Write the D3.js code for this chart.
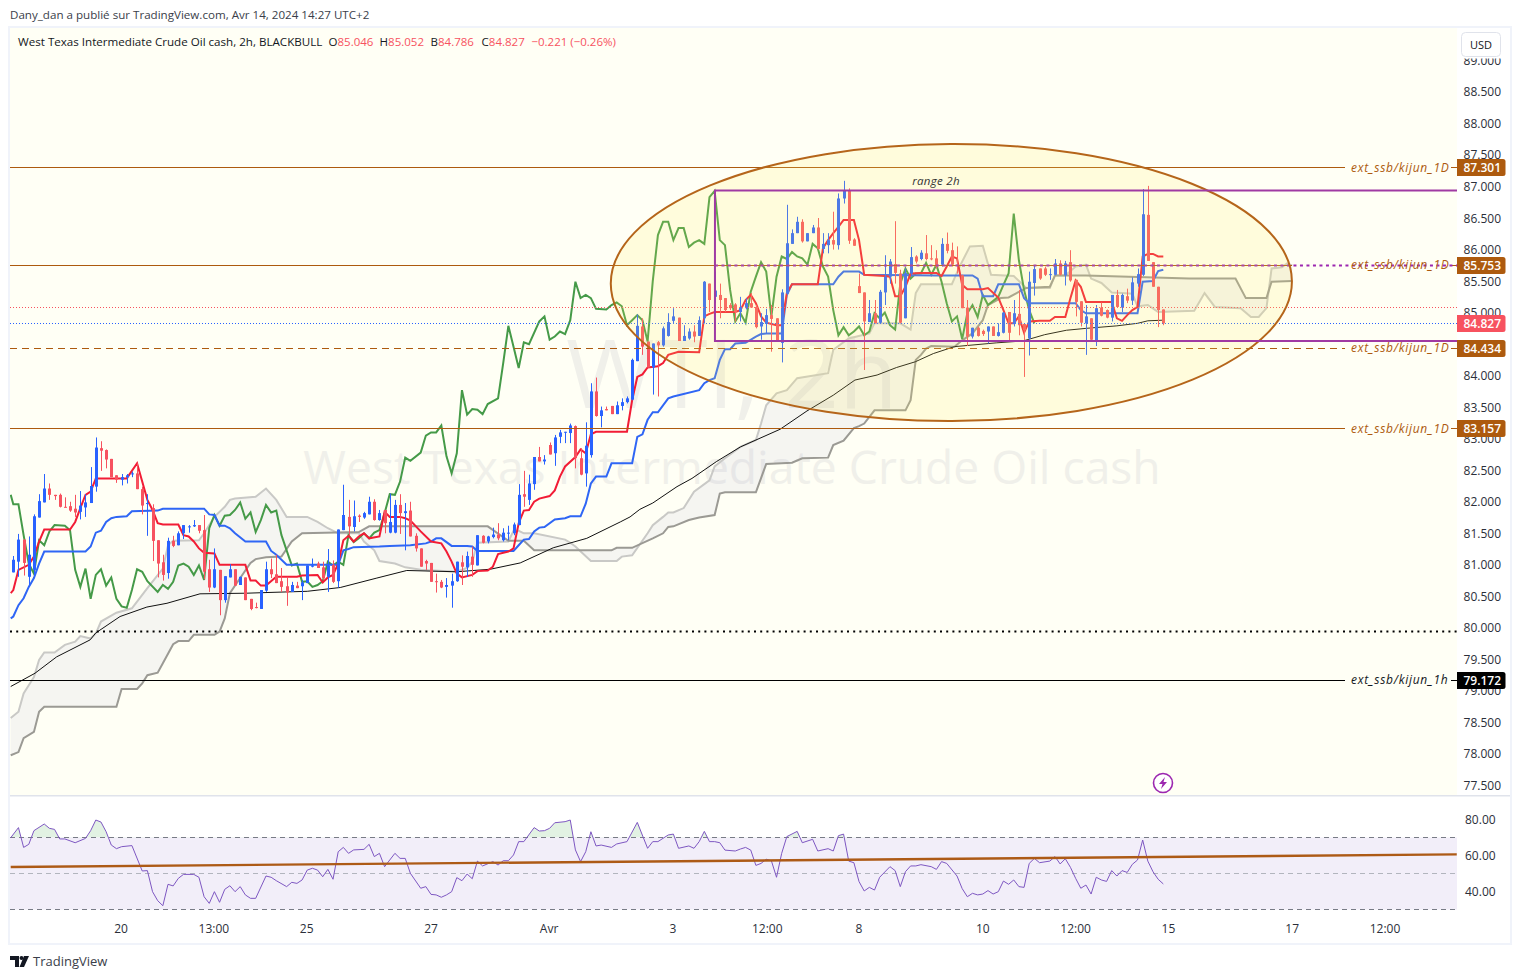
<!DOCTYPE html>
<html><head><meta charset="utf-8">
<script src="https://cdn.jsdelivr.net/npm/d3@7/dist/d3.min.js"></script>
<style>html,body{margin:0;padding:0;background:#fff}svg{display:block}text{font-family:"Open Sans",sans-serif}</style>
</head><body><svg id="c" width="1521" height="979"></svg>
<script>
const opens=[80.88,81.05,81.40,80.81,80.92,81.75,81.99,82.21,82.11,82.11,
81.92,81.93,81.89,81.84,81.91,81.98,82.24,82.85,82.82,82.68,
82.42,82.35,82.39,82.44,82.45,82.20,81.97,81.90,81.39,81.04,
80.87,81.38,81.31,81.50,81.60,81.61,81.63,81.55,80.93,80.64,
80.92,80.44,80.80,80.93,80.68,80.80,80.46,80.33,80.30,80.59,
80.93,80.85,80.74,80.66,80.57,80.67,80.66,80.71,80.97,81.02,
80.96,80.81,81.00,80.74,81.55,81.76,81.60,81.78,81.75,81.80,
82.00,81.71,81.87,81.51,81.51,81.95,81.82,81.86,81.46,81.26,
81.06,81.03,80.74,80.73,80.65,80.67,80.74,81.04,80.96,81.13,
80.99,81.46,81.37,81.44,81.48,81.39,81.50,81.50,81.63,82.12,
82.03,82.28,82.71,82.64,82.90,82.77,83.03,83.10,83.09,83.20,
82.69,82.45,82.74,83.75,83.36,83.47,83.52,83.39,83.52,83.58,
83.62,84.23,84.78,84.54,84.13,84.53,84.48,84.63,84.87,84.92,
84.55,84.59,84.70,84.63,84.91,85.46,85.25,85.28,85.23,85.12,
85.13,85.01,85.07,85.15,85.09,84.78,84.82,84.96,84.91,84.52,
85.30,86.09,86.26,86.44,86.13,86.26,86.35,86.01,86.07,86.15,
86.07,86.81,86.93,86.16,85.42,85.32,84.85,84.99,84.84,85.32,
85.57,85.77,85.62,84.91,85.62,85.89,85.85,85.94,85.86,85.86,
85.76,86.09,85.99,85.76,85.59,85.08,84.62,84.76,84.71,84.70,
84.78,84.63,84.68,85.01,84.82,84.98,84.82,84.59,85.47,85.70,
85.70,85.60,85.60,85.78,85.59,85.80,85.52,85.18,84.83,84.91,
84.55,85.08,85.04,84.92,85.28,85.08,85.26,85.19,85.46,85.60,
86.55,85.80,85.41,85.05];
const highs=[81.14,81.49,81.40,81.45,81.80,82.12,82.44,82.29,82.11,82.13,
82.07,82.00,82.11,82.17,82.12,82.55,83.02,82.96,82.83,82.68,
82.42,82.44,82.44,82.48,82.61,82.24,82.12,81.96,81.39,81.16,
81.43,81.46,81.53,81.63,81.63,81.71,81.63,81.79,81.08,81.26,
80.92,80.82,81.01,80.93,80.81,80.80,80.46,80.40,80.60,81.05,
81.10,81.16,80.95,80.81,80.73,80.73,80.76,80.99,81.10,81.05,
81.05,81.25,81.07,81.56,82.27,82.03,82.02,81.80,81.84,82.08,
82.04,81.87,81.87,82.13,82.03,82.12,81.98,82.00,81.50,81.26,
81.08,81.03,80.86,80.76,80.79,80.86,81.05,81.15,81.21,81.29,
81.47,81.47,81.46,81.59,81.66,81.58,81.62,81.67,82.28,82.49,
82.43,82.71,82.87,82.74,82.94,83.06,83.14,83.11,83.24,83.21,
82.85,83.26,83.88,83.97,83.51,83.51,83.52,83.59,83.64,83.67,
84.27,84.97,84.91,84.54,84.51,84.55,84.78,84.99,85.07,84.92,
84.80,84.75,84.80,84.94,85.50,85.46,85.65,85.46,85.23,85.15,
85.15,85.25,85.23,85.31,85.12,84.99,85.06,85.12,84.91,85.37,
86.71,86.32,86.52,86.48,86.26,86.39,86.50,86.26,86.26,86.60,
86.89,87.09,86.97,86.18,85.62,85.32,85.20,85.20,85.36,85.91,
85.85,86.45,85.68,85.70,86.04,85.91,85.99,86.23,86.07,85.99,
86.18,86.27,86.11,86.05,85.60,85.20,84.76,84.78,84.73,84.78,
84.78,84.83,85.01,85.01,85.20,85.36,84.82,85.65,85.74,85.70,
85.73,85.70,85.85,85.83,85.82,85.99,85.52,85.18,85.12,84.91,
85.12,85.16,85.05,85.28,85.36,85.30,85.38,85.56,85.70,86.96,
87.01,85.80,85.41,85.05];
const lows=[80.88,80.81,80.83,80.68,80.84,81.75,81.99,82.03,82.03,81.91,
81.91,81.84,81.76,81.72,81.76,81.98,82.16,82.49,82.53,82.39,
82.30,82.26,82.29,82.39,82.20,81.80,81.46,81.06,80.80,80.75,
80.78,81.28,81.31,81.41,81.51,81.60,81.50,80.77,80.57,80.63,
80.20,80.40,80.80,80.67,80.68,80.44,80.28,80.31,80.30,80.57,
80.79,80.71,80.57,80.35,80.57,80.63,80.44,80.71,80.96,80.95,
80.76,80.57,80.71,80.64,81.55,81.47,81.53,81.68,81.73,81.80,
81.70,81.70,81.50,81.50,81.50,81.49,81.23,81.45,81.21,80.97,
80.92,80.73,80.56,80.63,80.48,80.32,80.73,80.68,80.81,80.81,
80.99,81.34,81.34,81.42,81.39,81.37,81.39,81.47,81.63,81.92,
81.95,82.19,82.64,82.59,82.75,82.57,82.93,82.93,82.93,82.53,
82.42,82.24,82.70,83.35,83.18,83.45,83.39,83.39,83.45,83.56,
83.61,84.23,84.33,84.13,83.70,83.67,84.46,84.62,84.83,84.55,
84.55,84.57,84.53,84.63,84.83,85.01,85.15,84.91,85.01,85.04,
84.86,84.86,85.05,85.08,84.75,84.57,84.67,84.38,84.54,84.21,
85.28,86.09,86.26,86.11,86.13,86.26,86.00,85.94,85.94,86.00,
86.00,86.73,86.09,86.06,85.31,84.09,84.85,84.83,84.83,85.12,
85.46,85.46,84.83,84.91,85.57,85.78,85.83,85.83,85.83,85.70,
85.73,85.94,85.73,85.62,85.07,84.47,84.59,84.62,84.63,84.51,
84.63,84.62,84.67,84.55,84.78,84.64,83.98,84.32,85.27,85.52,
85.58,85.52,85.59,85.59,85.43,85.49,84.94,84.78,84.33,84.56,
84.47,84.94,84.91,84.86,85.08,85.01,85.15,85.12,85.41,85.58,
85.82,85.41,84.77,84.80];
const closes=[81.08,81.40,81.03,81.16,81.77,82.01,82.21,82.11,82.09,81.92,
81.91,81.86,81.83,81.94,81.99,82.25,82.86,82.81,82.67,82.39,
82.35,82.39,82.42,82.45,82.20,81.94,81.98,81.38,81.02,80.84,
81.38,81.30,81.50,81.63,81.61,81.63,81.54,80.89,80.64,80.93,
80.44,80.82,80.93,80.67,80.81,80.44,80.30,80.32,80.60,80.93,
80.85,80.71,80.65,80.56,80.68,80.63,80.72,80.99,80.99,80.95,
80.79,80.99,80.73,81.56,81.79,81.61,81.77,81.76,81.82,82.00,
81.71,81.82,81.66,81.68,81.95,81.82,81.85,81.45,81.26,80.97,
81.02,80.73,80.73,80.64,80.68,80.74,81.05,80.97,81.14,81.00,
81.47,81.35,81.45,81.48,81.42,81.51,81.51,81.64,82.11,82.08,
82.29,82.71,82.64,82.67,82.75,83.02,83.10,83.11,83.21,82.69,
82.43,82.89,83.75,83.36,83.45,83.45,83.39,83.53,83.58,83.64,
84.25,84.79,84.46,84.13,84.51,84.48,84.75,84.85,84.94,84.55,
84.63,84.70,84.62,84.88,85.49,85.20,85.35,85.20,85.04,85.07,
85.01,85.09,85.15,85.08,84.77,84.85,84.96,84.90,84.54,85.32,
86.10,86.26,86.44,86.13,86.26,86.35,86.01,86.09,86.15,86.08,
86.81,86.93,86.14,86.06,85.31,84.86,84.99,84.83,85.33,85.57,
85.81,85.63,84.84,85.63,85.88,85.81,85.95,85.85,85.85,85.73,
86.09,85.98,85.76,85.74,85.07,84.62,84.76,84.63,84.66,84.78,
84.63,84.69,85.00,84.68,84.99,84.80,84.72,85.49,85.69,85.54,
85.60,85.61,85.78,85.60,85.78,85.51,85.17,84.84,84.94,84.57,
85.07,84.95,84.92,85.28,85.09,85.28,85.19,85.48,85.61,86.56,
85.82,85.41,85.04,84.83];

// Ichimoku lines: [bar, price] vertices
const tenkan=[[-0.5,80.55],[0,80.60],[1,80.92],[3,81.0],[4,81.13],[5,81.37],[6,81.56],[11,81.56],[12,81.68],[13,81.9],[14,82.11],[15,82.16],[16,82.37],[22,82.37],[24,82.61],[26,82.03],[27,81.87],[28,81.66],[29,81.64],[32,81.64],[33,81.47],[34,81.45],[35,81.37],[36,81.26],[37,81.19],[39,81.18],[40,81.0],[45,81.0],[46,80.75],[47,80.75],[48,80.67],[49,80.67],[51,80.81],[55,80.81],[56,80.83],[59,80.84],[60,80.72],[61,80.80],[62,80.84],[63,81.02],[64,81.39],[65,81.46],[66,81.37],[67,81.45],[68,81.50],[69,81.42],[71,81.45],[72,81.84],[73,81.76],[75,81.76],[76,81.74],[77,81.70],[79,81.53],[81,81.37],[83,81.34],[84,81.21],[85,81.05],[86,80.86],[87,80.80],[89,80.84],[90,80.90],[92,80.91],[93,80.97],[94,81.17],[96,81.21],[97,81.26],[98,81.66],[99,81.86],[100,81.87],[101,82.0],[102,82.05],[104,82.09],[105,82.18],[106,82.40],[107,82.56],[109,82.71],[110,82.83],[111,82.77],[112,83.07],[113,83.11],[119,83.11],[120,83.61],[121,83.98],[122,84.02],[123,84.13],[125,84.15],[126,84.20],[127,84.33],[129,84.38],[133,84.37],[134,84.94],[135,84.98],[136,85.01],[140,85.01],[141,85.04],[142,85.20],[143,85.28],[144,85.15],[145,84.94],[146,84.84],[148,84.80],[149,84.80],[150,85.31],[151,85.45],[156,85.45],[157,86.02],[158,86.15],[159,86.26],[160,86.36],[161,86.47],[163,86.47],[164,86.15],[165,85.60],[169,85.58],[170,85.57],[171,85.26],[172,85.26],[173,85.41],[174,85.62],[176,85.63],[179,85.63],[180,85.58],[181,85.73],[182,85.89],[183,85.86],[184,85.44],[185,85.37],[188,85.37],[189,85.39],[191,85.24],[192,85.04],[193,84.83],[194,84.83],[195,84.94],[196,84.68],[197,84.86],[199,84.87],[201,84.87],[202,84.93],[204,84.93],[205,85.23],[206,85.51],[207,85.41],[208,85.17],[213,85.17],[214,84.91],[215,84.87],[216,84.96],[217,85.04],[218,85.09],[219,85.89],[220,85.93],[221,85.93],[222,85.89],[223,85.89]];
const kijun=[[-0.5,80.15],[0,80.18],[1,80.36],[2,80.47],[3,80.65],[4,80.79],[5,81.02],[6,81.21],[14,81.21],[15,81.29],[16,81.51],[17,81.54],[18,81.68],[19,81.74],[20,81.76],[22,81.77],[23,81.85],[28,81.86],[29,81.89],[37,81.89],[38,81.80],[39,81.79],[40,81.62],[41,81.62],[42,81.58],[43,81.50],[45,81.37],[49,81.37],[50,81.22],[51,81.16],[53,81.0],[63,81.0],[64,81.23],[65,81.25],[66,81.28],[71,81.29],[73,81.30],[77,81.31],[80,81.34],[81,81.37],[82,81.42],[83,81.42],[85,81.30],[88,81.30],[89,81.29],[90,81.22],[97,81.22],[98,81.31],[99,81.40],[100,81.41],[101,81.53],[102,81.59],[103,81.60],[105,81.72],[107,81.74],[108,81.77],[110,81.77],[111,81.97],[112,82.29],[113,82.40],[115,82.40],[116,82.61],[120,82.61],[121,83.03],[122,83.07],[123,83.30],[124,83.42],[125,83.42],[127,83.64],[128,83.67],[133,83.77],[134,83.88],[135,83.93],[136,83.96],[137,84.25],[138,84.42],[139,84.42],[140,84.51],[142,84.52],[144,84.62],[145,84.66],[146,84.67],[149,84.67],[150,85.28],[151,85.45],[159,85.45],[160,85.57],[161,85.65],[164,85.65],[165,85.60],[179,85.59],[186,85.59],[187,85.54],[188,85.26],[190,85.26],[191,85.45],[195,85.45],[196,85.23],[197,85.15],[206,85.15],[207,85.04],[208,84.99],[218,84.99],[219,85.49],[221,85.50],[222,85.66],[223,85.68]];
const chikou=[[-0.5,82.11],[0,81.96],[1,81.96],[2,81.47],[3,81.02],[4,80.86],[5,81.39],[6,81.31],[7,81.53],[8,81.63],[10,81.62],[11,81.55],[12,80.92],[13,80.65],[14,80.94],[15,80.46],[16,80.84],[17,80.93],[18,80.67],[19,80.80],[20,80.46],[21,80.34],[22,80.32],[23,80.60],[24,80.93],[25,80.89],[26,80.74],[28,80.57],[29,80.68],[30,80.62],[31,80.73],[32,80.99],[33,81.02],[34,80.97],[35,80.84],[36,80.99],[37,80.76],[38,81.58],[39,81.79],[40,81.62],[41,81.78],[42,81.79],[43,81.87],[44,81.99],[45,81.73],[46,81.83],[47,81.52],[48,81.71],[49,81.95],[50,81.83],[51,81.86],[52,81.47],[53,81.23],[54,80.99],[55,81.02],[56,80.73],[57,80.74],[58,80.65],[59,80.68],[60,80.74],[61,81.05],[62,80.99],[63,81.05],[64,81.0],[65,81.47],[66,81.36],[67,81.42],[68,81.50],[69,81.42],[70,81.51],[71,81.55],[72,81.82],[73,82.12],[74,82.11],[75,82.32],[76,82.70],[77,82.65],[79,82.78],[80,83.05],[81,83.10],[82,83.10],[83,83.21],[84,82.72],[85,82.45],[86,82.77],[87,83.77],[88,83.38],[89,83.47],[90,83.46],[91,83.39],[92,83.55],[94,83.64],[95,84.2],[96,84.79],[97,84.46],[98,84.12],[99,84.53],[100,84.50],[102,84.86],[103,84.94],[104,84.57],[105,84.62],[106,84.70],[107,84.66],[108,84.88],[109,85.49],[110,85.23],[111,85.28],[112,85.23],[113,85.06],[115,85.05],[116,85.12],[117,85.16],[118,85.10],[119,84.80],[120,84.88],[121,84.96],[122,84.88],[123,84.54],[124,85.5],[125,86.23],[126,86.44],[127,86.44],[128,86.15],[129,86.34],[130,86.34],[131,86.04],[132,86.11],[133,86.15],[134,86.09],[135,86.83],[136,86.93],[137,86.15],[138,86.07],[139,85.36],[140,84.86],[141,84.99],[142,84.84],[143,85.33],[144,85.57],[145,85.80],[146,85.65],[147,84.94],[148,85.57],[149,85.89],[150,85.85],[151,85.96],[152,85.89],[153,85.86],[154,85.76],[155,86.09],[156,86.02],[157,85.73],[158,85.57],[159,85.04],[160,84.64],[161,84.77],[162,84.64],[163,84.70],[164,84.78],[165,84.64],[166,84.70],[167,84.99],[168,84.91],[169,85.0],[170,84.80],[171,84.73],[172,85.46],[173,85.70],[174,85.54],[175,85.62],[176,85.62],[177,85.79],[178,85.60],[179,85.76],[180,85.49],[181,85.15],[182,84.86],[183,84.94],[184,84.58],[185,84.99],[186,85.12],[187,84.93],[188,85.28],[189,85.12],[191,85.25],[192,85.44],[193,85.62],[194,86.57],[195,85.83],[196,85.36],[197,85.04],[198,84.83]];
const spanA=[[-0.5,78.57],[1,78.67],[2,78.96],[3,79.09],[4,79.22],[5,79.49],[6,79.61],[8,79.61],[10,79.73],[12,79.78],[13,79.87],[15,79.83],[16,79.91],[17,80.10],[20,80.24],[23,80.31],[26,80.63],[29,80.94],[30,81.31],[31,81.38],[36,81.39],[37,81.50],[39,81.76],[41,81.92],[42,82.03],[43,82.05],[47,82.08],[49,82.21],[51,82.03],[53,81.76],[57,81.76],[59,81.68],[61,81.58],[63,81.50],[67,81.50],[68,81.37],[70,81.23],[71,81.06],[74,81.02],[76,80.96],[79,80.92],[86,80.89],[88,80.95],[89,81.05],[90,81.35],[96,81.37],[97,81.54],[98,81.54],[99,81.50],[101,81.50],[107,81.40],[108,81.35],[109,81.29],[112,81.06],[117,81.06],[118,81.13],[120,81.15],[123,81.50],[124,81.63],[126,81.76],[127,81.83],[128,81.83],[130,81.90],[132,82.16],[135,82.34],[136,82.56],[138,82.69],[141,82.87],[144,82.98],[145,83.24],[146,83.53],[148,83.72],[150,83.77],[152,83.96],[158,84.04],[159,84.41],[162,84.59],[166,84.67],[167,84.83],[172,84.83],[174,84.73],[175,85.31],[176,85.45],[182,85.45],[183.5,85.73],[185.5,86.05],[188,86.06],[189.6,85.60],[194,85.58],[196.4,85.39],[201,85.39],[202,85.59],[204,85.59],[206,85.73],[208,85.76],[209,85.54],[211,85.47],[213,85.32],[215,85.31],[217,85.30],[218,85.10],[220,85.12],[222,85.01],[229,85.03],[231,85.31],[233,85.09],[238,85.07],[240,84.93],[241.5,84.93],[243,85.07],[244,85.70],[246,85.72],[247,85.78],[248,85.75]];
const spanB=[[-0.5,77.98],[1,78.03],[2,78.25],[4,78.35],[5,78.67],[6,78.75],[20,78.75],[21,79.03],[24,79.03],[25,79.12],[26,79.25],[28,79.29],[29,79.44],[31,79.74],[32,79.79],[34,79.79],[35,79.89],[39,79.89],[40,79.94],[41,80.15],[42,80.55],[44,80.79],[46,81.03],[47,81.09],[49,81.12],[52,81.13],[54,81.37],[56,81.50],[67,81.52],[69,81.61],[92,81.61],[96,81.38],[99,81.38],[101,81.23],[116,81.23],[117,81.27],[120,81.27],[124,81.42],[126,81.50],[127,81.60],[128,81.61],[131,81.71],[133,81.75],[136,81.79],[137,82.13],[138,82.15],[144,82.15],[146,82.60],[151,82.62],[153,82.69],[158,82.70],[159,82.90],[161,82.97],[163,83.17],[164,83.20],[165,83.24],[167,83.45],[173,83.45],[174,83.61],[175,84.25],[176,84.33],[177,84.43],[178,84.47],[182.5,84.46],[184,84.56],[186,84.67],[188,84.88],[189,85.12],[191.5,85.23],[193,85.24],[195,85.33],[196.4,85.39],[201,85.41],[202,85.59],[208,85.59],[228,85.54],[237,85.54],[239,85.23],[243,85.23],[244,85.49],[248,85.50]];
const ma200=[[-0.5,79.07],[4.2,79.28],[8.4,79.54],[14.9,79.81],[16,79.92],[20.7,80.18],[25.9,80.33],[29.8,80.39],[36.2,80.54],[45.3,80.55],[49,80.56],[57,80.58],[63.4,80.64],[70.5,80.79],[76.3,80.91],[86,80.89],[92.5,80.93],[98.3,81.03],[104.7,81.27],[111.2,81.42],[117.7,81.68],[119.6,81.76],[121.5,81.88],[124,81.98],[128.7,82.24],[131.6,82.37],[136.4,82.64],[141,82.87],[148.7,83.15],[153.9,83.44],[159,83.69],[163.2,83.93],[167.5,84.01],[171.3,84.13],[174.9,84.22],[178.4,84.35],[182.5,84.46],[190.6,84.52],[195.8,84.55],[200,84.65],[204.2,84.72],[208,84.75],[214,84.79],[218,84.83],[220,84.87],[223,84.88]];
const rsiValues=[[-0.5,69.9],[1,75.5],[2,64.5],[3,66.2],[4,73.8],[6,77.5],[7,75.1],[8,74.5],[9,69.2],[10,69.2],[12,67.1],[14,69.5],[15,73.8],[16,79.7],[17,78.6],[18,73.2],[19,65.8],[20,63.8],[21,64.9],[23,65.5],[25,51.4],[26,51.6],[27,39.9],[28,34.9],[29,32.1],[30,44.0],[31,43.1],[32,47.3],[33,49.5],[35,49.5],[36,47.9],[37,37.1],[38,33.4],[39,39.9],[40,34.0],[41,41.2],[42,43.2],[43,39.9],[44,42.7],[45,38.1],[46,36.2],[47,36.2],[49,48.6],[50,47.9],[51,46.0],[53,42.7],[54,45.1],[55,44.5],[56,46.4],[57,51.9],[58,52.9],[59,51.9],[60,48.2],[61,52.3],[62,46.8],[63,62.1],[64,64.5],[65,61.2],[66,63.1],[68,63.4],[69,66.2],[70,59.4],[71,61.2],[72,53.8],[74,61.2],[75,58.4],[76,58.4],[77,50.1],[79,41.8],[80,42.7],[81,38.4],[82,38.1],[83,36.8],[84,38.1],[85,39.9],[86,47.7],[87,46.0],[88,49.7],[89,47.1],[90,56.9],[91,54.2],[93,56.6],[94,54.7],[95,57.1],[96,57.1],[97,60.3],[98,67.7],[99,67.7],[101,75.5],[102,73.6],[103,73.8],[104,75.1],[105,78.2],[107,78.8],[108,79.7],[109,63.1],[110,56.6],[111,62.1],[112,73.2],[113,65.3],[114,65.8],[116,64.5],[117,66.4],[119,67.7],[121,78.4],[123,64.0],[124,67.7],[125,67.7],[127,71.4],[128,71.9],[129,64.0],[131,65.3],[132,64.0],[133,67.7],[134,73.4],[135,67.7],[136,67.7],[137,67.1],[138,63.0],[140,62.5],[141,63.6],[142,64.5],[143,63.0],[144,54.5],[145,55.6],[146,57.9],[147,57.1],[148,47.9],[149,61.2],[150,70.5],[152,73.4],[153,67.1],[155,69.0],[156,62.5],[158,63.8],[159,62.5],[160,71.0],[161,71.9],[162,56.9],[163,56.0],[164,45.5],[165,40.3],[166,42.3],[167,40.8],[168,47.9],[170,53.8],[171,51.6],[172,42.7],[173,51.0],[174,54.2],[175,54.2],[176,54.9],[178,53.8],[179,52.3],[180,56.6],[181,55.6],[183,48.6],[184,41.6],[185,37.1],[186,39.0],[187,38.1],[188,38.6],[189,40.5],[190,38.6],[191,39.9],[192,45.8],[193,44.0],[194,46.4],[195,42.7],[196,42.3],[197,55.6],[198,58.4],[199,56.0],[201,56.9],[202,59.4],[203,55.3],[204,58.2],[205,53.4],[206,47.3],[207,41.8],[208,43.6],[209,38.6],[210,47.9],[211,46.4],[212,45.6],[213,51.6],[214,48.6],[215,51.6],[216,50.6],[217,55.1],[218,57.5],[219,68.6],[220,56.9],[221,51.0],[222,46.8],[223,44.2]];

const priceTicks=[89,88.5,88,87.5,87,86.5,86,85.5,85,84.5,84,83.5,83,82.5,82,81.5,81,80.5,80,79.5,79,78.5,78,77.5];
const rsiTicks=[80,60,40];
const rsiBands=[70,50,30];
const timeLabels=["20","13:00","25","27","Avr","3","12:00","8","10","12:00","15","17","12:00"];
const timeBars=[20.9,38.9,56.9,81,103.9,127.9,146.2,164,188,206,224,248,266];
const levelNames=["ext_ssb/kijun_1D","ext_ssb/kijun_1D","ext_ssb/kijun_1D","ext_ssb/kijun_1D","ext_ssb/kijun_1h"];
const levelPrices=[87.301,85.753,84.434,83.157,79.172];
const levelColors=["#ad5a0e","#ad5a0e","#ad5a0e","#ad5a0e","#000"];
const levelDash=[null,null,"7 5",null,null];
const lastPrice=84.827, prevMark=85.08, dottedBlack=79.94;
const rangeTop=86.937, rangeBottom=84.55, rangeStartBar=136.06;
const ellipseBar=181.9, ellipsePrice=85.477, ellipseBars=66.04, ellipseSpan=2.197;
const trendStart=[-0.5,53.6], trendEnd=[279.9,60.6];
const headerNames=["O","H","B","C"];
const headerVals=["85.046","85.052","84.786","84.827"];

const L=10,R=1457,T=28,B=795,RT=797,RB=918,AR=1510;
const x=d3.scaleLinear().domain([0,223]).range([13.3,1163.3]);
const y=d3.scaleLinear().domain([87,77.5]).range([186.5,785.5]);
const yr=d3.scaleLinear().domain([80,40]).range([819.5,891.5]);
const svg=d3.select("#c");
const bg="#fffff5", up="#2962ff", dn="#f7525f", org="#ad5a0e";

// chart frame
svg.append("rect").attr("x",L-2).attr("y",T-2).attr("width",AR-L+4).attr("height",945-T+2).attr("fill","#f0f3fa");
svg.append("rect").attr("x",L).attr("y",T).attr("width",AR-L).attr("height",943-T).attr("fill","#fff");
svg.append("rect").attr("x",L).attr("y",T).attr("width",R-L).attr("height",B-T).attr("fill",bg);
svg.append("rect").attr("x",L).attr("y",B).attr("width",AR-L).attr("height",1.5).attr("fill","#e0e3eb");
const defs=svg.append("defs");
defs.append("clipPath").attr("id","pc").append("rect").attr("x",L).attr("y",T).attr("width",R-L).attr("height",B-T);
defs.append("clipPath").attr("id","rc").append("rect").attr("x",L).attr("y",RT).attr("width",R-L).attr("height",RB-RT);
defs.append("clipPath").attr("id","ob").append("rect").attr("x",L).attr("y",RT).attr("width",R-L).attr("height",yr(70)-RT);

const g=svg.append("g").attr("clip-path","url(#pc)");
// watermark
g.append("text").attr("x",732).attr("y",408).attr("text-anchor","middle").attr("font-size",96).attr("fill","#f0f0ea").text("WTI, 2h");
g.append("text").attr("x",732).attr("y",484).attr("text-anchor","middle").attr("font-size",46.2).attr("fill","#f0f0ea").text("West Texas Intermediate Crude Oil cash");

const ln=d3.line().x(d=>x(d[0])).y(d=>y(d[1]));
// cloud
g.append("path").attr("d",ln(spanA.concat(spanB.slice().reverse()))+"Z").attr("fill","rgb(120,120,200)").attr("fill-opacity",0.075);
g.append("path").attr("d",ln(spanA)).attr("fill","none").attr("stroke","#c9c9c6").attr("stroke-width",2);
g.append("path").attr("d",ln(spanB)).attr("fill","none").attr("stroke","#9b9a94").attr("stroke-width",2);
g.append("path").attr("d",ln(ma200)).attr("fill","none").attr("stroke","#111").attr("stroke-width",1);
g.append("path").attr("d",ln(chikou)).attr("fill","none").attr("stroke","#459a48").attr("stroke-width",2);
g.append("path").attr("d",ln(kijun)).attr("fill","none").attr("stroke","#2f66f5").attr("stroke-width",2);
g.append("path").attr("d",ln(tenkan)).attr("fill","none").attr("stroke","#f21c35").attr("stroke-width",2);

// candles
const bars=d3.range(opens.length);
const col=i=>closes[i]>=opens[i]?up:dn;
g.append("g").selectAll("rect").data(bars).join("rect")
 .attr("x",i=>Math.round(x(i))).attr("width",1)
 .attr("y",i=>y(highs[i])).attr("height",i=>Math.max(1,y(lows[i])-y(highs[i]))).attr("fill",col);
g.append("g").selectAll("rect").data(bars).join("rect")
 .attr("x",i=>Math.round(x(i))-1).attr("width",3)
 .attr("y",i=>y(Math.max(opens[i],closes[i]))).attr("height",i=>Math.max(1,Math.abs(y(opens[i])-y(closes[i])))).attr("fill",col);

// horizontal levels
const hl=(v,x1,x2,c,w,dash)=>{const yy=Math.floor(y(v))+.5;const s=g.append("line").attr("x1",x1).attr("x2",x2).attr("y1",yy).attr("y2",yy).attr("stroke",c).attr("stroke-width",w);if(dash)s.attr("stroke-dasharray",dash);return s;};
hl(prevMark,L,R,dn,1,"1 2");
hl(lastPrice,L,R,up,1,"1 2");
hl(dottedBlack,L,R,"#000",2,"2 4.2");
levelPrices.forEach((v,i)=>{
  const xe=i===1?1292:1345;
  hl(v,L,xe,levelColors[i],1,levelDash[i]);
  hl(v,1451,R,levelColors[i],1,levelDash[i]);
  const c=i===4?"#131722":org;
  if(i===1) hl(v,x(rangeStartBar),R,"#9c27b0",1.8,"3 3.5");
  g.append("text").attr("x",1351).attr("y",y(v)+4).attr("font-size",12).attr("font-style","italic").attr("letter-spacing",.72).attr("fill",c).text(levelNames[i]);
});
// ellipse + range box
g.append("ellipse").attr("cx",x(ellipseBar)).attr("cy",y(ellipsePrice))
 .attr("rx",x(ellipseBars)-x(0)).attr("ry",y(ellipsePrice-ellipseSpan)-y(ellipsePrice))
 .attr("transform",`rotate(-0.2 ${x(ellipseBar)} ${y(ellipsePrice)})`)
 .attr("fill","rgb(255,235,100)").attr("fill-opacity",.17).attr("stroke","#b5651a").attr("stroke-width",2);
const rs="#a03aa3";
g.append("path").attr("d",`M${R},${y(rangeTop)}H${x(rangeStartBar)}V${y(rangeBottom)}H${R}`).attr("fill","none").attr("stroke",rs).attr("stroke-width",2);
g.append("text").attr("x",936).attr("y",185).attr("text-anchor","middle").attr("font-size",11.5).attr("font-style","italic").attr("letter-spacing",.3).attr("fill","#333").text("range 2h");
// lightning
const bx=1163,by=783;
const lg=g.append("g");
lg.append("circle").attr("cx",bx).attr("cy",by).attr("r",9.5).attr("fill","#fff").attr("stroke","#9c27b0").attr("stroke-width",1.6);
lg.append("path").attr("d",`M${bx+2},${by-6}L${bx-4},${by+1}H${bx-.5}L${bx-2},${by+6}L${bx+4},${by-1}H${bx+.5}Z`).attr("fill","#9c27b0");

// price axis
const at=svg.append("g");
priceTicks.forEach(v=>{ if(y(v)>T+30) at.append("text").attr("x",1501).attr("y",y(v)+4.5).attr("text-anchor","end").attr("font-size",12).attr("fill","#2b2f3a").text(d3.format(".3f")(v)); });
const box=(v,c,tc)=>{const yy=Math.floor(y(v))+.5;
  at.append("path").attr("d",`M${R},${yy-8.5}H1503a2.5,2.5 0 0 1 2.5,2.5V${yy+6}a2.5,2.5 0 0 1 -2.5,2.5H${R}Z`).attr("fill",c);
  at.append("text").attr("x",1501).attr("y",yy+4.5).attr("text-anchor","end").attr("font-size",12).attr("font-weight",600).attr("fill",tc).text(d3.format(".3f")(v));};
levelPrices.forEach((v,i)=>box(v,levelColors[i],"#fff"));
box(lastPrice,dn,"#fff");

// USD button
svg.append("rect").attr("x",R+1).attr("y",T).attr("width",AR-R-1).attr("height",30.5).attr("fill","#fff");
svg.append("rect").attr("x",1461.5).attr("y",32.5).attr("width",39).attr("height",24).attr("rx",4).attr("fill","#fff").attr("stroke","#e0e3eb");
svg.append("text").attr("x",1481).attr("y",49).attr("text-anchor","middle").attr("font-size",11).attr("fill","#131722").text("USD");

// RSI pane
const rp=svg.append("g").attr("clip-path","url(#rc)");
rp.append("rect").attr("x",L).attr("width",R-L).attr("y",yr(70)).attr("height",yr(30)-yr(70)).attr("fill","#7e57c2").attr("fill-opacity",.1);
rp.append("path").attr("clip-path","url(#ob)")
 .attr("d",d3.area().x(d=>x(d[0])).y0(yr(70)).y1(d=>yr(d[1]))(rsiValues)).attr("fill","#4caf50").attr("fill-opacity",.16);
rsiBands.forEach(v=>rp.append("line").attr("x1",L).attr("x2",R).attr("y1",Math.floor(yr(v))+.5).attr("y2",Math.floor(yr(v))+.5)
  .attr("stroke",v===50?"#b2b5be":"#787b86").attr("stroke-dasharray","5 4").attr("stroke-width",1));
rp.append("path").attr("d",d3.line().x(d=>x(d[0])).y(d=>yr(d[1]))(rsiValues)).attr("fill","none").attr("stroke","#7e57c2").attr("stroke-width",1);
rp.append("line").attr("x1",x(trendStart[0])).attr("y1",yr(trendStart[1])).attr("x2",x(trendEnd[0])).attr("y2",yr(trendEnd[1])).attr("stroke","#ad5a16").attr("stroke-width",2.4);
rsiTicks.forEach(v=>at.append("text").attr("x",1465).attr("y",yr(v)+4.5).attr("font-size",12).attr("fill","#2b2f3a").text(d3.format(".2f")(v)));

// time axis
timeLabels.forEach((t,i)=>svg.append("text").attr("x",x(timeBars[i])).attr("y",933).attr("text-anchor","middle").attr("font-size",12).attr("fill","#2b2f3a").text(t));

// headers
svg.append("text").attr("x",10).attr("y",19).attr("font-size",11.6).attr("fill","#3a3e4a").text("Dany_dan a publié sur TradingView.com, Avr 14, 2024 14:27 UTC+2");
svg.append("text").attr("x",18).attr("y",46).attr("font-size",11.6).attr("fill","#131722").text("West Texas Intermediate Crude Oil cash, 2h, BLACKBULL");
const hx=[328.6,379.6,430.6,481.6];
headerNames.forEach((n,i)=>{
  const t=svg.append("text").attr("x",hx[i]).attr("y",46).attr("font-size",11.5).attr("fill","#131722").text(n);
  t.append("tspan").attr("fill",dn).text(headerVals[i]);
});
svg.append("text").attr("x",531.4).attr("y",46).attr("font-size",11.5).attr("fill",dn).text("−0.221 (−0.26%)");

// TradingView logo
const lgo=svg.append("g").attr("fill","#131722");
lgo.append("path").attr("d","M10,956h9v11h-4v-7h-5z");
lgo.append("circle").attr("cx",21.5).attr("cy",958).attr("r",2);
lgo.append("path").attr("d","M24,956h5l-5,11h-4.5z");
svg.append("text").attr("x",33).attr("y",966).attr("font-size",13).attr("fill","#3a3e4a").text("TradingView");
</script></body></html>
